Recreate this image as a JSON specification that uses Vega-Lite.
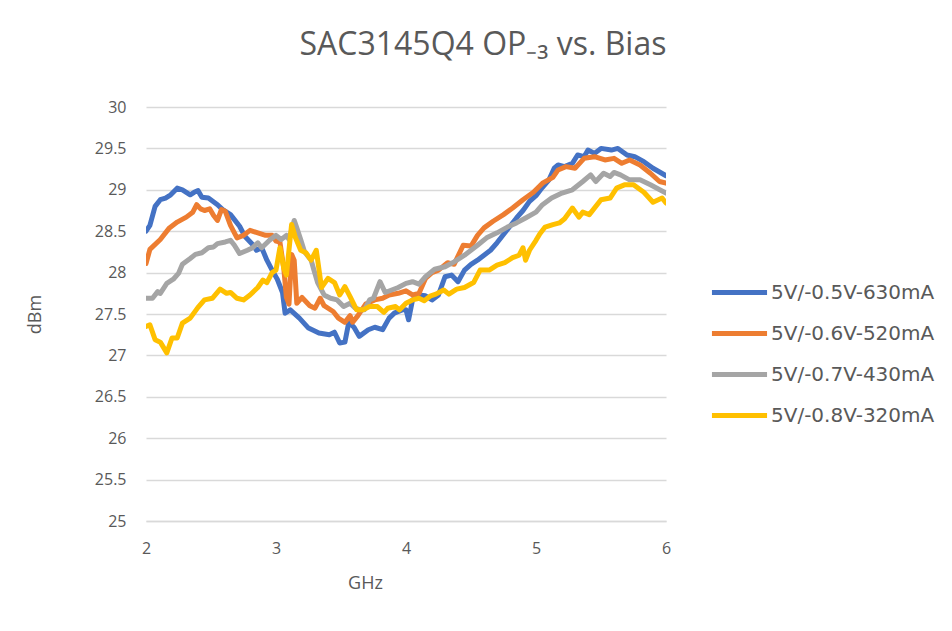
{
"$schema": "https://vega.github.io/schema/vega-lite/v6.json",
"autosize": "none",
"width": 520,
"height": 414,
"padding": {"left": 146, "top": 107, "right": 286, "bottom": 110},
"background": "white",
"title": {"text": "SAC3145Q4 OP₋₃ vs. Bias", "font": "Open Sans", "fontSize": 32, "fontWeight": "normal", "color": "#595959", "anchor": "middle", "dx": 77, "offset": 37},
"data": {"values": [
{"series":"5V/-0.5V-630mA","GHz":2.00,"dBm":28.50},{"series":"5V/-0.5V-630mA","GHz":2.03,"dBm":28.57},{"series":"5V/-0.5V-630mA","GHz":2.07,"dBm":28.80},{"series":"5V/-0.5V-630mA","GHz":2.11,"dBm":28.88},{"series":"5V/-0.5V-630mA","GHz":2.15,"dBm":28.90},{"series":"5V/-0.5V-630mA","GHz":2.19,"dBm":28.94},{"series":"5V/-0.5V-630mA","GHz":2.24,"dBm":29.02},{"series":"5V/-0.5V-630mA","GHz":2.28,"dBm":29.00},{"series":"5V/-0.5V-630mA","GHz":2.34,"dBm":28.94},{"series":"5V/-0.5V-630mA","GHz":2.37,"dBm":28.97},{"series":"5V/-0.5V-630mA","GHz":2.40,"dBm":28.99},{"series":"5V/-0.5V-630mA","GHz":2.43,"dBm":28.91},{"series":"5V/-0.5V-630mA","GHz":2.48,"dBm":28.90},{"series":"5V/-0.5V-630mA","GHz":2.55,"dBm":28.82},{"series":"5V/-0.5V-630mA","GHz":2.59,"dBm":28.76},{"series":"5V/-0.5V-630mA","GHz":2.65,"dBm":28.70},{"series":"5V/-0.5V-630mA","GHz":2.68,"dBm":28.64},{"series":"5V/-0.5V-630mA","GHz":2.72,"dBm":28.56},{"series":"5V/-0.5V-630mA","GHz":2.76,"dBm":28.44},{"series":"5V/-0.5V-630mA","GHz":2.82,"dBm":28.34},{"series":"5V/-0.5V-630mA","GHz":2.85,"dBm":28.27},{"series":"5V/-0.5V-630mA","GHz":2.89,"dBm":28.30},{"series":"5V/-0.5V-630mA","GHz":2.93,"dBm":28.15},{"series":"5V/-0.5V-630mA","GHz":2.97,"dBm":28.03},{"series":"5V/-0.5V-630mA","GHz":3.01,"dBm":27.92},{"series":"5V/-0.5V-630mA","GHz":3.05,"dBm":27.76},{"series":"5V/-0.5V-630mA","GHz":3.07,"dBm":27.51},{"series":"5V/-0.5V-630mA","GHz":3.11,"dBm":27.55},{"series":"5V/-0.5V-630mA","GHz":3.18,"dBm":27.45},{"series":"5V/-0.5V-630mA","GHz":3.25,"dBm":27.33},{"series":"5V/-0.5V-630mA","GHz":3.33,"dBm":27.27},{"series":"5V/-0.5V-630mA","GHz":3.41,"dBm":27.25},{"series":"5V/-0.5V-630mA","GHz":3.45,"dBm":27.28},{"series":"5V/-0.5V-630mA","GHz":3.49,"dBm":27.15},{"series":"5V/-0.5V-630mA","GHz":3.53,"dBm":27.16},{"series":"5V/-0.5V-630mA","GHz":3.56,"dBm":27.40},{"series":"5V/-0.5V-630mA","GHz":3.60,"dBm":27.34},{"series":"5V/-0.5V-630mA","GHz":3.64,"dBm":27.23},{"series":"5V/-0.5V-630mA","GHz":3.71,"dBm":27.31},{"series":"5V/-0.5V-630mA","GHz":3.76,"dBm":27.34},{"series":"5V/-0.5V-630mA","GHz":3.82,"dBm":27.31},{"series":"5V/-0.5V-630mA","GHz":3.87,"dBm":27.45},{"series":"5V/-0.5V-630mA","GHz":3.91,"dBm":27.51},{"series":"5V/-0.5V-630mA","GHz":3.97,"dBm":27.55},{"series":"5V/-0.5V-630mA","GHz":4.00,"dBm":27.55},{"series":"5V/-0.5V-630mA","GHz":4.02,"dBm":27.43},{"series":"5V/-0.5V-630mA","GHz":4.05,"dBm":27.67},{"series":"5V/-0.5V-630mA","GHz":4.10,"dBm":27.73},{"series":"5V/-0.5V-630mA","GHz":4.15,"dBm":27.72},{"series":"5V/-0.5V-630mA","GHz":4.20,"dBm":27.67},{"series":"5V/-0.5V-630mA","GHz":4.25,"dBm":27.73},{"series":"5V/-0.5V-630mA","GHz":4.30,"dBm":27.95},{"series":"5V/-0.5V-630mA","GHz":4.35,"dBm":27.97},{"series":"5V/-0.5V-630mA","GHz":4.40,"dBm":27.89},{"series":"5V/-0.5V-630mA","GHz":4.45,"dBm":28.03},{"series":"5V/-0.5V-630mA","GHz":4.50,"dBm":28.10},{"series":"5V/-0.5V-630mA","GHz":4.55,"dBm":28.15},{"series":"5V/-0.5V-630mA","GHz":4.60,"dBm":28.21},{"series":"5V/-0.5V-630mA","GHz":4.65,"dBm":28.27},{"series":"5V/-0.5V-630mA","GHz":4.70,"dBm":28.36},{"series":"5V/-0.5V-630mA","GHz":4.75,"dBm":28.46},{"series":"5V/-0.5V-630mA","GHz":4.80,"dBm":28.56},{"series":"5V/-0.5V-630mA","GHz":4.85,"dBm":28.66},{"series":"5V/-0.5V-630mA","GHz":4.90,"dBm":28.75},{"series":"5V/-0.5V-630mA","GHz":4.95,"dBm":28.86},{"series":"5V/-0.5V-630mA","GHz":5.00,"dBm":28.93},{"series":"5V/-0.5V-630mA","GHz":5.05,"dBm":29.03},{"series":"5V/-0.5V-630mA","GHz":5.10,"dBm":29.12},{"series":"5V/-0.5V-630mA","GHz":5.14,"dBm":29.26},{"series":"5V/-0.5V-630mA","GHz":5.17,"dBm":29.30},{"series":"5V/-0.5V-630mA","GHz":5.22,"dBm":29.28},{"series":"5V/-0.5V-630mA","GHz":5.28,"dBm":29.32},{"series":"5V/-0.5V-630mA","GHz":5.32,"dBm":29.42},{"series":"5V/-0.5V-630mA","GHz":5.37,"dBm":29.40},{"series":"5V/-0.5V-630mA","GHz":5.40,"dBm":29.48},{"series":"5V/-0.5V-630mA","GHz":5.45,"dBm":29.44},{"series":"5V/-0.5V-630mA","GHz":5.50,"dBm":29.50},{"series":"5V/-0.5V-630mA","GHz":5.58,"dBm":29.48},{"series":"5V/-0.5V-630mA","GHz":5.63,"dBm":29.50},{"series":"5V/-0.5V-630mA","GHz":5.70,"dBm":29.42},{"series":"5V/-0.5V-630mA","GHz":5.76,"dBm":29.40},{"series":"5V/-0.5V-630mA","GHz":5.83,"dBm":29.34},{"series":"5V/-0.5V-630mA","GHz":5.90,"dBm":29.26},{"series":"5V/-0.5V-630mA","GHz":6.00,"dBm":29.17},
{"series":"5V/-0.6V-520mA","GHz":2.00,"dBm":28.11},{"series":"5V/-0.6V-520mA","GHz":2.03,"dBm":28.28},{"series":"5V/-0.6V-520mA","GHz":2.11,"dBm":28.40},{"series":"5V/-0.6V-520mA","GHz":2.18,"dBm":28.54},{"series":"5V/-0.6V-520mA","GHz":2.24,"dBm":28.61},{"series":"5V/-0.6V-520mA","GHz":2.31,"dBm":28.67},{"series":"5V/-0.6V-520mA","GHz":2.36,"dBm":28.73},{"series":"5V/-0.6V-520mA","GHz":2.39,"dBm":28.82},{"series":"5V/-0.6V-520mA","GHz":2.42,"dBm":28.77},{"series":"5V/-0.6V-520mA","GHz":2.45,"dBm":28.75},{"series":"5V/-0.6V-520mA","GHz":2.49,"dBm":28.77},{"series":"5V/-0.6V-520mA","GHz":2.52,"dBm":28.69},{"series":"5V/-0.6V-520mA","GHz":2.55,"dBm":28.63},{"series":"5V/-0.6V-520mA","GHz":2.58,"dBm":28.76},{"series":"5V/-0.6V-520mA","GHz":2.61,"dBm":28.74},{"series":"5V/-0.6V-520mA","GHz":2.65,"dBm":28.57},{"series":"5V/-0.6V-520mA","GHz":2.70,"dBm":28.42},{"series":"5V/-0.6V-520mA","GHz":2.75,"dBm":28.45},{"series":"5V/-0.6V-520mA","GHz":2.80,"dBm":28.51},{"series":"5V/-0.6V-520mA","GHz":2.86,"dBm":28.48},{"series":"5V/-0.6V-520mA","GHz":2.92,"dBm":28.45},{"series":"5V/-0.6V-520mA","GHz":2.97,"dBm":28.45},{"series":"5V/-0.6V-520mA","GHz":3.00,"dBm":28.38},{"series":"5V/-0.6V-520mA","GHz":3.03,"dBm":28.37},{"series":"5V/-0.6V-520mA","GHz":3.06,"dBm":28.05},{"series":"5V/-0.6V-520mA","GHz":3.08,"dBm":27.70},{"series":"5V/-0.6V-520mA","GHz":3.10,"dBm":27.62},{"series":"5V/-0.6V-520mA","GHz":3.12,"dBm":28.22},{"series":"5V/-0.6V-520mA","GHz":3.14,"dBm":28.15},{"series":"5V/-0.6V-520mA","GHz":3.16,"dBm":27.63},{"series":"5V/-0.6V-520mA","GHz":3.20,"dBm":27.70},{"series":"5V/-0.6V-520mA","GHz":3.26,"dBm":27.60},{"series":"5V/-0.6V-520mA","GHz":3.30,"dBm":27.57},{"series":"5V/-0.6V-520mA","GHz":3.34,"dBm":27.69},{"series":"5V/-0.6V-520mA","GHz":3.37,"dBm":27.60},{"series":"5V/-0.6V-520mA","GHz":3.44,"dBm":27.53},{"series":"5V/-0.6V-520mA","GHz":3.48,"dBm":27.45},{"series":"5V/-0.6V-520mA","GHz":3.53,"dBm":27.40},{"series":"5V/-0.6V-520mA","GHz":3.57,"dBm":27.48},{"series":"5V/-0.6V-520mA","GHz":3.59,"dBm":27.40},{"series":"5V/-0.6V-520mA","GHz":3.63,"dBm":27.48},{"series":"5V/-0.6V-520mA","GHz":3.69,"dBm":27.62},{"series":"5V/-0.6V-520mA","GHz":3.76,"dBm":27.67},{"series":"5V/-0.6V-520mA","GHz":3.82,"dBm":27.69},{"series":"5V/-0.6V-520mA","GHz":3.87,"dBm":27.73},{"series":"5V/-0.6V-520mA","GHz":3.94,"dBm":27.75},{"series":"5V/-0.6V-520mA","GHz":4.00,"dBm":27.78},{"series":"5V/-0.6V-520mA","GHz":4.05,"dBm":27.73},{"series":"5V/-0.6V-520mA","GHz":4.10,"dBm":27.75},{"series":"5V/-0.6V-520mA","GHz":4.15,"dBm":27.93},{"series":"5V/-0.6V-520mA","GHz":4.20,"dBm":28.00},{"series":"5V/-0.6V-520mA","GHz":4.25,"dBm":28.03},{"series":"5V/-0.6V-520mA","GHz":4.32,"dBm":28.12},{"series":"5V/-0.6V-520mA","GHz":4.37,"dBm":28.10},{"series":"5V/-0.6V-520mA","GHz":4.44,"dBm":28.33},{"series":"5V/-0.6V-520mA","GHz":4.50,"dBm":28.32},{"series":"5V/-0.6V-520mA","GHz":4.55,"dBm":28.45},{"series":"5V/-0.6V-520mA","GHz":4.60,"dBm":28.54},{"series":"5V/-0.6V-520mA","GHz":4.67,"dBm":28.62},{"series":"5V/-0.6V-520mA","GHz":4.75,"dBm":28.70},{"series":"5V/-0.6V-520mA","GHz":4.82,"dBm":28.78},{"series":"5V/-0.6V-520mA","GHz":4.90,"dBm":28.88},{"series":"5V/-0.6V-520mA","GHz":4.98,"dBm":28.97},{"series":"5V/-0.6V-520mA","GHz":5.05,"dBm":29.08},{"series":"5V/-0.6V-520mA","GHz":5.13,"dBm":29.15},{"series":"5V/-0.6V-520mA","GHz":5.17,"dBm":29.24},{"series":"5V/-0.6V-520mA","GHz":5.23,"dBm":29.28},{"series":"5V/-0.6V-520mA","GHz":5.30,"dBm":29.26},{"series":"5V/-0.6V-520mA","GHz":5.37,"dBm":29.38},{"series":"5V/-0.6V-520mA","GHz":5.45,"dBm":29.40},{"series":"5V/-0.6V-520mA","GHz":5.53,"dBm":29.36},{"series":"5V/-0.6V-520mA","GHz":5.60,"dBm":29.38},{"series":"5V/-0.6V-520mA","GHz":5.66,"dBm":29.32},{"series":"5V/-0.6V-520mA","GHz":5.72,"dBm":29.36},{"series":"5V/-0.6V-520mA","GHz":5.80,"dBm":29.30},{"series":"5V/-0.6V-520mA","GHz":5.88,"dBm":29.20},{"series":"5V/-0.6V-520mA","GHz":5.95,"dBm":29.10},{"series":"5V/-0.6V-520mA","GHz":6.00,"dBm":29.08},
{"series":"5V/-0.7V-430mA","GHz":2.00,"dBm":27.69},{"series":"5V/-0.7V-430mA","GHz":2.05,"dBm":27.69},{"series":"5V/-0.7V-430mA","GHz":2.09,"dBm":27.77},{"series":"5V/-0.7V-430mA","GHz":2.11,"dBm":27.75},{"series":"5V/-0.7V-430mA","GHz":2.16,"dBm":27.87},{"series":"5V/-0.7V-430mA","GHz":2.21,"dBm":27.92},{"series":"5V/-0.7V-430mA","GHz":2.25,"dBm":27.99},{"series":"5V/-0.7V-430mA","GHz":2.28,"dBm":28.10},{"series":"5V/-0.7V-430mA","GHz":2.34,"dBm":28.17},{"series":"5V/-0.7V-430mA","GHz":2.38,"dBm":28.22},{"series":"5V/-0.7V-430mA","GHz":2.43,"dBm":28.24},{"series":"5V/-0.7V-430mA","GHz":2.48,"dBm":28.30},{"series":"5V/-0.7V-430mA","GHz":2.52,"dBm":28.31},{"series":"5V/-0.7V-430mA","GHz":2.55,"dBm":28.35},{"series":"5V/-0.7V-430mA","GHz":2.61,"dBm":28.37},{"series":"5V/-0.7V-430mA","GHz":2.65,"dBm":28.39},{"series":"5V/-0.7V-430mA","GHz":2.68,"dBm":28.33},{"series":"5V/-0.7V-430mA","GHz":2.72,"dBm":28.23},{"series":"5V/-0.7V-430mA","GHz":2.78,"dBm":28.27},{"series":"5V/-0.7V-430mA","GHz":2.82,"dBm":28.30},{"series":"5V/-0.7V-430mA","GHz":2.86,"dBm":28.36},{"series":"5V/-0.7V-430mA","GHz":2.89,"dBm":28.30},{"series":"5V/-0.7V-430mA","GHz":2.95,"dBm":28.39},{"series":"5V/-0.7V-430mA","GHz":3.00,"dBm":28.45},{"series":"5V/-0.7V-430mA","GHz":3.04,"dBm":28.40},{"series":"5V/-0.7V-430mA","GHz":3.08,"dBm":28.45},{"series":"5V/-0.7V-430mA","GHz":3.10,"dBm":28.40},{"series":"5V/-0.7V-430mA","GHz":3.14,"dBm":28.63},{"series":"5V/-0.7V-430mA","GHz":3.16,"dBm":28.54},{"series":"5V/-0.7V-430mA","GHz":3.19,"dBm":28.40},{"series":"5V/-0.7V-430mA","GHz":3.22,"dBm":28.25},{"series":"5V/-0.7V-430mA","GHz":3.27,"dBm":28.15},{"series":"5V/-0.7V-430mA","GHz":3.29,"dBm":28.04},{"series":"5V/-0.7V-430mA","GHz":3.32,"dBm":27.88},{"series":"5V/-0.7V-430mA","GHz":3.37,"dBm":27.73},{"series":"5V/-0.7V-430mA","GHz":3.42,"dBm":27.69},{"series":"5V/-0.7V-430mA","GHz":3.47,"dBm":27.67},{"series":"5V/-0.7V-430mA","GHz":3.52,"dBm":27.59},{"series":"5V/-0.7V-430mA","GHz":3.57,"dBm":27.63},{"series":"5V/-0.7V-430mA","GHz":3.61,"dBm":27.57},{"series":"5V/-0.7V-430mA","GHz":3.65,"dBm":27.55},{"series":"5V/-0.7V-430mA","GHz":3.68,"dBm":27.55},{"series":"5V/-0.7V-430mA","GHz":3.72,"dBm":27.67},{"series":"5V/-0.7V-430mA","GHz":3.75,"dBm":27.69},{"series":"5V/-0.7V-430mA","GHz":3.80,"dBm":27.89},{"series":"5V/-0.7V-430mA","GHz":3.84,"dBm":27.76},{"series":"5V/-0.7V-430mA","GHz":3.89,"dBm":27.79},{"series":"5V/-0.7V-430mA","GHz":3.94,"dBm":27.82},{"series":"5V/-0.7V-430mA","GHz":4.00,"dBm":27.87},{"series":"5V/-0.7V-430mA","GHz":4.05,"dBm":27.89},{"series":"5V/-0.7V-430mA","GHz":4.10,"dBm":27.86},{"series":"5V/-0.7V-430mA","GHz":4.15,"dBm":27.95},{"series":"5V/-0.7V-430mA","GHz":4.22,"dBm":28.04},{"series":"5V/-0.7V-430mA","GHz":4.30,"dBm":28.07},{"series":"5V/-0.7V-430mA","GHz":4.37,"dBm":28.13},{"series":"5V/-0.7V-430mA","GHz":4.45,"dBm":28.21},{"series":"5V/-0.7V-430mA","GHz":4.55,"dBm":28.33},{"series":"5V/-0.7V-430mA","GHz":4.62,"dBm":28.42},{"series":"5V/-0.7V-430mA","GHz":4.70,"dBm":28.48},{"series":"5V/-0.7V-430mA","GHz":4.78,"dBm":28.55},{"series":"5V/-0.7V-430mA","GHz":4.85,"dBm":28.60},{"series":"5V/-0.7V-430mA","GHz":4.92,"dBm":28.66},{"series":"5V/-0.7V-430mA","GHz":5.00,"dBm":28.73},{"series":"5V/-0.7V-430mA","GHz":5.05,"dBm":28.82},{"series":"5V/-0.7V-430mA","GHz":5.12,"dBm":28.90},{"series":"5V/-0.7V-430mA","GHz":5.20,"dBm":28.96},{"series":"5V/-0.7V-430mA","GHz":5.28,"dBm":29.00},{"series":"5V/-0.7V-430mA","GHz":5.36,"dBm":29.10},{"series":"5V/-0.7V-430mA","GHz":5.42,"dBm":29.18},{"series":"5V/-0.7V-430mA","GHz":5.46,"dBm":29.10},{"series":"5V/-0.7V-430mA","GHz":5.52,"dBm":29.20},{"series":"5V/-0.7V-430mA","GHz":5.57,"dBm":29.16},{"series":"5V/-0.7V-430mA","GHz":5.60,"dBm":29.21},{"series":"5V/-0.7V-430mA","GHz":5.65,"dBm":29.18},{"series":"5V/-0.7V-430mA","GHz":5.72,"dBm":29.12},{"series":"5V/-0.7V-430mA","GHz":5.80,"dBm":29.12},{"series":"5V/-0.7V-430mA","GHz":5.88,"dBm":29.06},{"series":"5V/-0.7V-430mA","GHz":6.00,"dBm":28.96},
{"series":"5V/-0.8V-320mA","GHz":2.00,"dBm":27.35},{"series":"5V/-0.8V-320mA","GHz":2.03,"dBm":27.37},{"series":"5V/-0.8V-320mA","GHz":2.07,"dBm":27.19},{"series":"5V/-0.8V-320mA","GHz":2.11,"dBm":27.16},{"series":"5V/-0.8V-320mA","GHz":2.16,"dBm":27.03},{"series":"5V/-0.8V-320mA","GHz":2.20,"dBm":27.21},{"series":"5V/-0.8V-320mA","GHz":2.24,"dBm":27.21},{"series":"5V/-0.8V-320mA","GHz":2.28,"dBm":27.39},{"series":"5V/-0.8V-320mA","GHz":2.34,"dBm":27.45},{"series":"5V/-0.8V-320mA","GHz":2.40,"dBm":27.58},{"series":"5V/-0.8V-320mA","GHz":2.45,"dBm":27.67},{"series":"5V/-0.8V-320mA","GHz":2.51,"dBm":27.69},{"series":"5V/-0.8V-320mA","GHz":2.57,"dBm":27.80},{"series":"5V/-0.8V-320mA","GHz":2.62,"dBm":27.75},{"series":"5V/-0.8V-320mA","GHz":2.65,"dBm":27.76},{"series":"5V/-0.8V-320mA","GHz":2.70,"dBm":27.69},{"series":"5V/-0.8V-320mA","GHz":2.75,"dBm":27.67},{"series":"5V/-0.8V-320mA","GHz":2.80,"dBm":27.73},{"series":"5V/-0.8V-320mA","GHz":2.86,"dBm":27.82},{"series":"5V/-0.8V-320mA","GHz":2.90,"dBm":27.91},{"series":"5V/-0.8V-320mA","GHz":2.93,"dBm":27.88},{"series":"5V/-0.8V-320mA","GHz":2.97,"dBm":28.00},{"series":"5V/-0.8V-320mA","GHz":3.00,"dBm":28.03},{"series":"5V/-0.8V-320mA","GHz":3.03,"dBm":28.30},{"series":"5V/-0.8V-320mA","GHz":3.06,"dBm":28.05},{"series":"5V/-0.8V-320mA","GHz":3.08,"dBm":27.97},{"series":"5V/-0.8V-320mA","GHz":3.12,"dBm":28.58},{"series":"5V/-0.8V-320mA","GHz":3.15,"dBm":28.42},{"series":"5V/-0.8V-320mA","GHz":3.19,"dBm":28.27},{"series":"5V/-0.8V-320mA","GHz":3.23,"dBm":28.24},{"series":"5V/-0.8V-320mA","GHz":3.27,"dBm":28.15},{"series":"5V/-0.8V-320mA","GHz":3.31,"dBm":28.27},{"series":"5V/-0.8V-320mA","GHz":3.35,"dBm":27.82},{"series":"5V/-0.8V-320mA","GHz":3.40,"dBm":27.93},{"series":"5V/-0.8V-320mA","GHz":3.45,"dBm":27.88},{"series":"5V/-0.8V-320mA","GHz":3.49,"dBm":27.73},{"series":"5V/-0.8V-320mA","GHz":3.53,"dBm":27.83},{"series":"5V/-0.8V-320mA","GHz":3.57,"dBm":27.71},{"series":"5V/-0.8V-320mA","GHz":3.62,"dBm":27.55},{"series":"5V/-0.8V-320mA","GHz":3.67,"dBm":27.55},{"series":"5V/-0.8V-320mA","GHz":3.72,"dBm":27.59},{"series":"5V/-0.8V-320mA","GHz":3.78,"dBm":27.59},{"series":"5V/-0.8V-320mA","GHz":3.83,"dBm":27.52},{"series":"5V/-0.8V-320mA","GHz":3.86,"dBm":27.57},{"series":"5V/-0.8V-320mA","GHz":3.92,"dBm":27.59},{"series":"5V/-0.8V-320mA","GHz":3.95,"dBm":27.55},{"series":"5V/-0.8V-320mA","GHz":4.00,"dBm":27.63},{"series":"5V/-0.8V-320mA","GHz":4.05,"dBm":27.67},{"series":"5V/-0.8V-320mA","GHz":4.10,"dBm":27.69},{"series":"5V/-0.8V-320mA","GHz":4.14,"dBm":27.66},{"series":"5V/-0.8V-320mA","GHz":4.19,"dBm":27.72},{"series":"5V/-0.8V-320mA","GHz":4.23,"dBm":27.74},{"series":"5V/-0.8V-320mA","GHz":4.29,"dBm":27.79},{"series":"5V/-0.8V-320mA","GHz":4.33,"dBm":27.74},{"series":"5V/-0.8V-320mA","GHz":4.39,"dBm":27.80},{"series":"5V/-0.8V-320mA","GHz":4.45,"dBm":27.82},{"series":"5V/-0.8V-320mA","GHz":4.52,"dBm":27.88},{"series":"5V/-0.8V-320mA","GHz":4.57,"dBm":28.03},{"series":"5V/-0.8V-320mA","GHz":4.64,"dBm":28.03},{"series":"5V/-0.8V-320mA","GHz":4.70,"dBm":28.09},{"series":"5V/-0.8V-320mA","GHz":4.76,"dBm":28.12},{"series":"5V/-0.8V-320mA","GHz":4.82,"dBm":28.18},{"series":"5V/-0.8V-320mA","GHz":4.87,"dBm":28.21},{"series":"5V/-0.8V-320mA","GHz":4.90,"dBm":28.30},{"series":"5V/-0.8V-320mA","GHz":4.92,"dBm":28.15},{"series":"5V/-0.8V-320mA","GHz":4.95,"dBm":28.27},{"series":"5V/-0.8V-320mA","GHz":5.00,"dBm":28.39},{"series":"5V/-0.8V-320mA","GHz":5.03,"dBm":28.47},{"series":"5V/-0.8V-320mA","GHz":5.07,"dBm":28.55},{"series":"5V/-0.8V-320mA","GHz":5.13,"dBm":28.58},{"series":"5V/-0.8V-320mA","GHz":5.18,"dBm":28.60},{"series":"5V/-0.8V-320mA","GHz":5.22,"dBm":28.65},{"series":"5V/-0.8V-320mA","GHz":5.28,"dBm":28.78},{"series":"5V/-0.8V-320mA","GHz":5.33,"dBm":28.67},{"series":"5V/-0.8V-320mA","GHz":5.36,"dBm":28.73},{"series":"5V/-0.8V-320mA","GHz":5.41,"dBm":28.70},{"series":"5V/-0.8V-320mA","GHz":5.50,"dBm":28.88},{"series":"5V/-0.8V-320mA","GHz":5.57,"dBm":28.90},{"series":"5V/-0.8V-320mA","GHz":5.62,"dBm":29.02},{"series":"5V/-0.8V-320mA","GHz":5.68,"dBm":29.06},{"series":"5V/-0.8V-320mA","GHz":5.75,"dBm":29.06},{"series":"5V/-0.8V-320mA","GHz":5.83,"dBm":28.97},{"series":"5V/-0.8V-320mA","GHz":5.90,"dBm":28.85},{"series":"5V/-0.8V-320mA","GHz":5.97,"dBm":28.90},{"series":"5V/-0.8V-320mA","GHz":6.00,"dBm":28.84}
]},
"mark": {"type": "line", "strokeWidth": 5, "strokeCap": "round", "strokeJoin": "round", "clip": true},
"encoding": {
  "x": {"field": "GHz", "type": "quantitative", "scale": {"domain": [2, 6], "nice": false},
    "axis": {"values": [2, 3, 4, 5, 6], "format": "~g", "grid": false, "ticks": false, "tickSize": 0, "labelFlush": false, "domain": true, "domainColor": "#D9D9D9", "domainWidth": 1.5, "labelPadding": 19, "labelFont": "Open Sans", "labelFontSize": 16, "labelColor": "#595959", "title": "GHz", "titleFont": "Open Sans", "titleFontSize": 18, "titleFontWeight": "normal", "titleColor": "#595959", "titleX": 219, "titleY": 62, "titleBaseline": "middle"}},
  "y": {"field": "dBm", "type": "quantitative", "scale": {"domain": [25, 30], "nice": false, "zero": false},
    "axis": {"values": [25, 25.5, 26, 26.5, 27, 27.5, 28, 28.5, 29, 29.5, 30], "format": "~g", "grid": true, "gridColor": "#D9D9D9", "gridWidth": 1.5, "domain": false, "ticks": false, "tickSize": 0, "labelPadding": 20, "labelFont": "Open Sans", "labelFontSize": 16, "labelColor": "#595959", "title": "dBm", "titleFont": "Open Sans", "titleFontSize": 18, "titleFontWeight": "normal", "titleColor": "#595959", "titleX": -111, "titleY": 207, "titleBaseline": "middle"}},
  "color": {"field": "series", "type": "nominal",
    "scale": {"domain": ["5V/-0.5V-630mA", "5V/-0.6V-520mA", "5V/-0.7V-430mA", "5V/-0.8V-320mA"], "range": ["#4472C4", "#ED7D31", "#A5A5A5", "#FFC000"]},
    "legend": {"title": null, "orient": "none", "legendX": 572, "legendY": 164, "padding": 0, "symbolType": "M-1.45,0H1.45", "symbolSize": 1444, "symbolStrokeWidth": 5, "rowPadding": 9, "labelOffset": 10, "labelFont": "DejaVu Sans", "labelFontSize": 20, "labelColor": "#595959", "labelLimit": 300}}
},
"config": {"view": {"stroke": null}}
}
